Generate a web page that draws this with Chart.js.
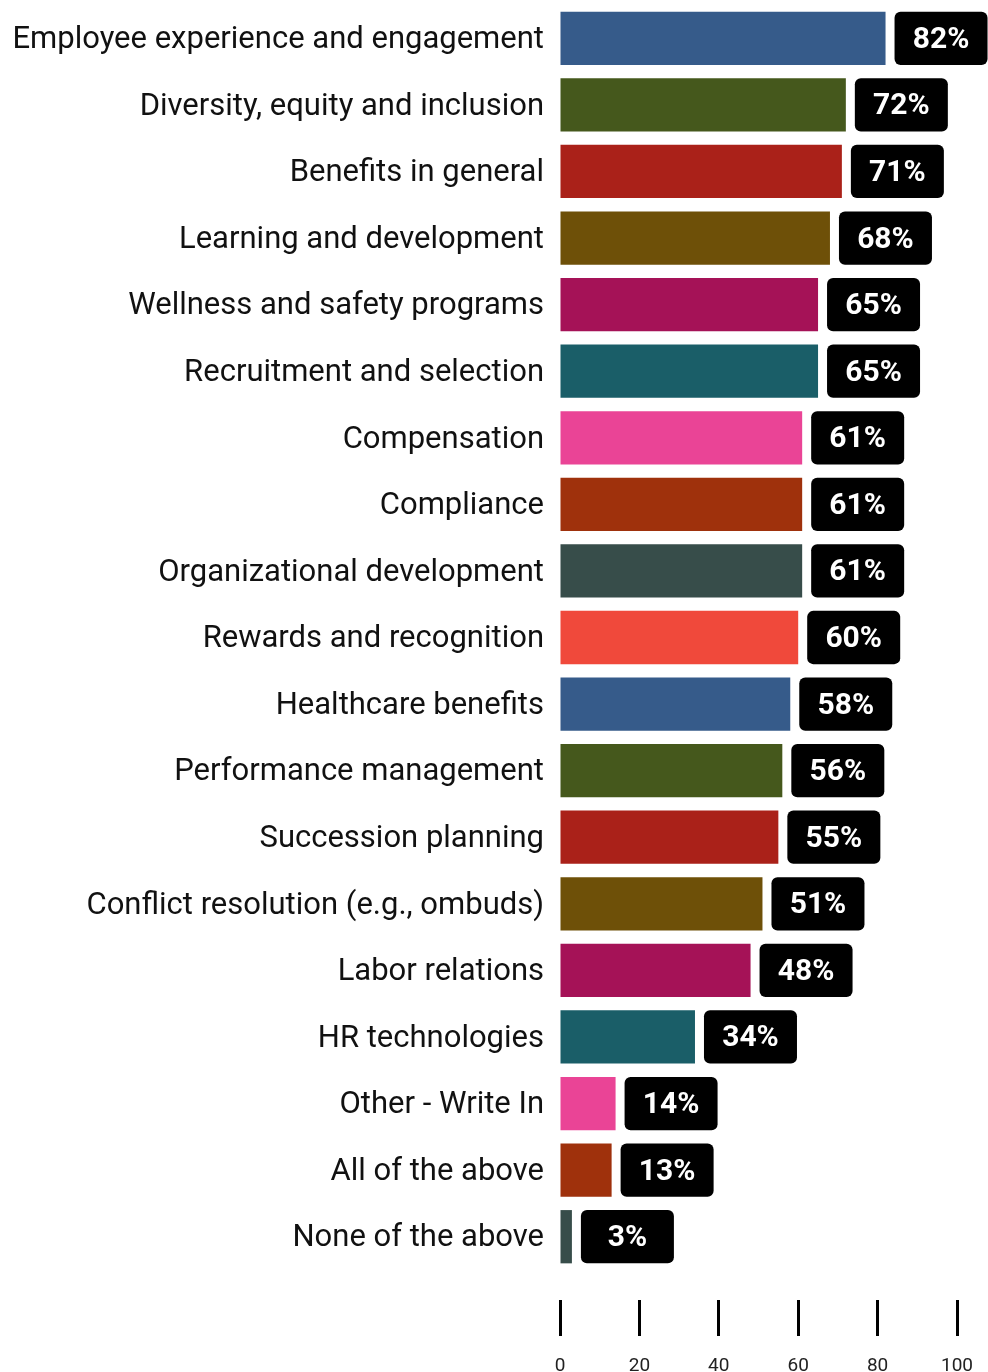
<!DOCTYPE html>
<html>
<head>
<meta charset="utf-8">
<script src="https://cdn.jsdelivr.net/npm/chart.js@4.4.1/dist/chart.umd.min.js"></script>
<style>
  html, body { margin: 0; padding: 0; background: #fff; }
  #wrap { width: 988px; height: 1372px; }
</style>
</head>
<body>
<div id="wrap"><canvas id="chart"></canvas></div>
<script>
const categories = [
  'Employee experience and engagement',
  'Diversity, equity and inclusion',
  'Benefits in general',
  'Learning and development',
  'Wellness and safety programs',
  'Recruitment and selection',
  'Compensation',
  'Compliance',
  'Organizational development',
  'Rewards and recognition',
  'Healthcare benefits',
  'Performance management',
  'Succession planning',
  'Conflict resolution (e.g., ombuds)',
  'Labor relations',
  'HR technologies',
  'Other - Write In',
  'All of the above',
  'None of the above'
];
const percentages = [82, 72, 71, 68, 65, 65, 61, 61, 61, 60, 58, 56, 55, 51, 48, 34, 14, 13, 3];
const palette = ['#365b8a', '#45581c', '#aa2119', '#6e5008', '#a51257', '#1a5e68', '#ea4496', '#9f310c', '#374d4a', '#f0493b'];
const axisTicks = [0, 20, 40, 60, 80, 100];

const barColors = categories.map((_, i) => palette[i % palette.length]);

// black rounded badge with the value, just right of each bar
const valueBadges = {
  id: 'valueBadges',
  afterDatasetsDraw(chart) {
    const ctx = chart.ctx;
    const meta = chart.getDatasetMeta(0);
    ctx.save();
    meta.data.forEach((bar, i) => {
      const h = bar.height;
      const x = bar.x + 9;
      const y = bar.y - h / 2;
      const w = 93;
      ctx.fillStyle = '#000';
      ctx.beginPath();
      ctx.roundRect(x, y, w, h, 6);
      ctx.fill();
      ctx.fillStyle = '#fff';
      ctx.font = 'bold 30px Roboto';
      ctx.textAlign = 'center';
      ctx.textBaseline = 'middle';
      ctx.fillText(percentages[i] + '%', x + w / 2, bar.y + 2);
    });
    ctx.restore();
  }
};

new Chart(document.getElementById('chart'), {
  type: 'bar',
  data: {
    labels: categories,
    datasets: [{
      data: percentages,
      backgroundColor: barColors,
      barPercentage: 0.8,
      categoryPercentage: 1.0
    }]
  },
  options: {
    indexAxis: 'y',
    responsive: true,
    maintainAspectRatio: false,
    animation: false,
    layout: { padding: { top: 5, right: 31, left: 0, bottom: 0 } },
    plugins: {
      legend: { display: false },
      tooltip: { enabled: false }
    },
    scales: {
      x: {
        min: 0,
        max: 100,
        afterBuildTicks(scale) {
          scale.ticks = axisTicks.map(v => ({ value: v }));
        },
        afterFit(scale) {
          scale.height = 102;
          scale.paddingLeft = 0;
          scale.paddingRight = 0;
        },
        border: { display: false },
        grid: {
          drawOnChartArea: false,
          drawTicks: true,
          tickLength: 66,
          tickWidth: 3,
          tickColor: '#000',
          tickBorderDash: [36, 30],
          tickBorderDashOffset: 36
        },
        ticks: {
          padding: 19,
          maxRotation: 0,
          color: '#222',
          font: { family: 'Roboto', size: 19 }
        }
      },
      y: {
        afterFit(scale) {
          scale.width = 560;
          scale.paddingTop = 0;
          scale.paddingBottom = 0;
        },
        border: { display: false },
        grid: { display: false, drawTicks: false },
        ticks: {
          padding: 16,
          labelOffset: 2,
          color: '#111',
          font: { family: 'Roboto', size: 31 }
        }
      }
    }
  },
  plugins: [valueBadges]
});
</script>
</body>
</html>
